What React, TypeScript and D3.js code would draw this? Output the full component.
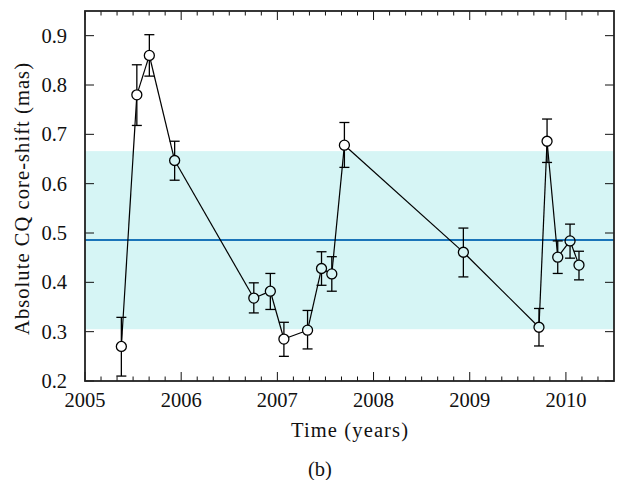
import React from "react";
import * as d3 from "d3";

const years = [2005.378, 2005.539, 2005.669, 2005.932, 2006.755, 2006.927, 2007.068, 2007.314, 2007.459, 2007.566, 2007.697, 2008.934, 2009.72, 2009.804, 2009.915, 2010.043, 2010.136];
const values = [0.270, 0.780, 0.860, 0.647, 0.368, 0.382, 0.285, 0.303, 0.428, 0.417, 0.678, 0.461, 0.309, 0.686, 0.451, 0.484, 0.435];
const errLow = [0.210, 0.718, 0.818, 0.607, 0.338, 0.345, 0.250, 0.265, 0.394, 0.382, 0.633, 0.411, 0.271, 0.643, 0.418, 0.449, 0.405];
const errHigh = [0.329, 0.841, 0.902, 0.686, 0.399, 0.418, 0.319, 0.343, 0.462, 0.452, 0.724, 0.510, 0.347, 0.731, 0.484, 0.518, 0.463];
const meanValue = 0.486;
const bandLow = 0.305;
const bandHigh = 0.666;
const xTicks = [2005, 2006, 2007, 2008, 2009, 2010];
const yTicks = [0.2, 0.3, 0.4, 0.5, 0.6, 0.7, 0.8, 0.9];
const xLabel = "Time (years)";
const yLabel = "Absolute CQ core-shift (mas)";
const caption = "(b)";

const W = 618, H = 480;
const L = 85, R = 614, T = 11, B = 381;
const FONT = '"Liberation Serif", "DejaVu Serif", serif';

export default function App() {
  const x = d3.scaleLinear().domain([2005, 2010.5]).range([L, R]);
  const y = d3.scaleLinear().domain([0.2, 0.95]).range([B, T]);
  const minorX: number[] = [];
  for (let i = 0; i <= 33; i++) {
    const v = 2005 + i / 6;
    if (i % 6 !== 0 && v < 2010.5) minorX.push(v);
  }
  const r = 5;
  const cap = 5;
  const pts = years.map((yr, i) => ({ cx: x(yr), cy: y(values[i]), lo: y(errLow[i]), hi: y(errHigh[i]) }));
  const segs = pts.slice(1).map((p, i) => {
    const a = pts[i];
    const dx = p.cx - a.cx, dy = p.cy - a.cy;
    const len = Math.hypot(dx, dy);
    const ux = dx / len, uy = dy / len;
    return { x1: a.cx + ux * r, y1: a.cy + uy * r, x2: p.cx - ux * r, y2: p.cy - uy * r, ok: len > 2 * r };
  });
  const stroke = "#111";
  const ts = { fontFamily: FONT, fontSize: "20.5px" };
  return (
    <svg width={W} height={H} style={{ position: "absolute", left: 0, top: 0, background: "#fff", fontFamily: FONT }}>
      <rect x={L} y={y(bandHigh)} width={R - L} height={y(bandLow) - y(bandHigh)} fill="#d6f5f5" />
      <line x1={L} x2={R} y1={y(meanValue)} y2={y(meanValue)} stroke="#1a74b9" strokeWidth={2} />
      {xTicks.map((t) => (
        <g key={"xt" + t}>
          <line x1={x(t)} x2={x(t)} y1={B} y2={B - 9} stroke={stroke} strokeWidth={1} />
          <line x1={x(t)} x2={x(t)} y1={T} y2={T + 9} stroke={stroke} strokeWidth={1} />
          <text x={x(t)} y={406.5} style={ts} textAnchor="middle" fill="#111">{t}</text>
        </g>
      ))}
      {minorX.map((t) => (
        <g key={"mx" + t}>
          <line x1={x(t)} x2={x(t)} y1={B} y2={B - 4.5} stroke={stroke} strokeWidth={1} />
          <line x1={x(t)} x2={x(t)} y1={T} y2={T + 4.5} stroke={stroke} strokeWidth={1} />
        </g>
      ))}
      {yTicks.map((t) => (
        <g key={"yt" + t}>
          <line x1={L} x2={L + 9} y1={y(t)} y2={y(t)} stroke={stroke} strokeWidth={1} />
          <line x1={R} x2={R - 9} y1={y(t)} y2={y(t)} stroke={stroke} strokeWidth={1} />
          <text x={67} y={y(t) + 7} style={ts} textAnchor="end" fill="#111">{t.toFixed(1)}</text>
        </g>
      ))}
      {segs.map((s, i) => s.ok ? (
        <line key={"s" + i} x1={s.x1} y1={s.y1} x2={s.x2} y2={s.y2} stroke="#000" strokeWidth={1.2} />
      ) : null)}
      {pts.map((p, i) => (
        <g key={"p" + i} stroke="#000" strokeWidth={1.3} fill="none">
          <line x1={p.cx} x2={p.cx} y1={p.hi} y2={p.cy - r} />
          <line x1={p.cx} x2={p.cx} y1={p.cy + r} y2={p.lo} />
          <line x1={p.cx - cap} x2={p.cx + cap} y1={p.hi} y2={p.hi} />
          <line x1={p.cx - cap} x2={p.cx + cap} y1={p.lo} y2={p.lo} />
          <circle cx={p.cx} cy={p.cy} r={r} />
        </g>
      ))}
      <rect x={L} y={T} width={R - L} height={B - T} fill="none" stroke="#222" strokeWidth={1.8} />
      <text x={(L + R) / 2} y={437} style={ts} textAnchor="middle" textLength={117} lengthAdjust="spacing" fill="#111">{xLabel}</text>
      <text transform={`translate(29, ${(T + B) / 2 + 3}) rotate(-90)`} style={ts} textAnchor="middle" textLength={272} lengthAdjust="spacing" fill="#111">{yLabel}</text>
      <text x={320} y={476} style={ts} textAnchor="middle" fill="#111">{caption}</text>
    </svg>
  );
}
